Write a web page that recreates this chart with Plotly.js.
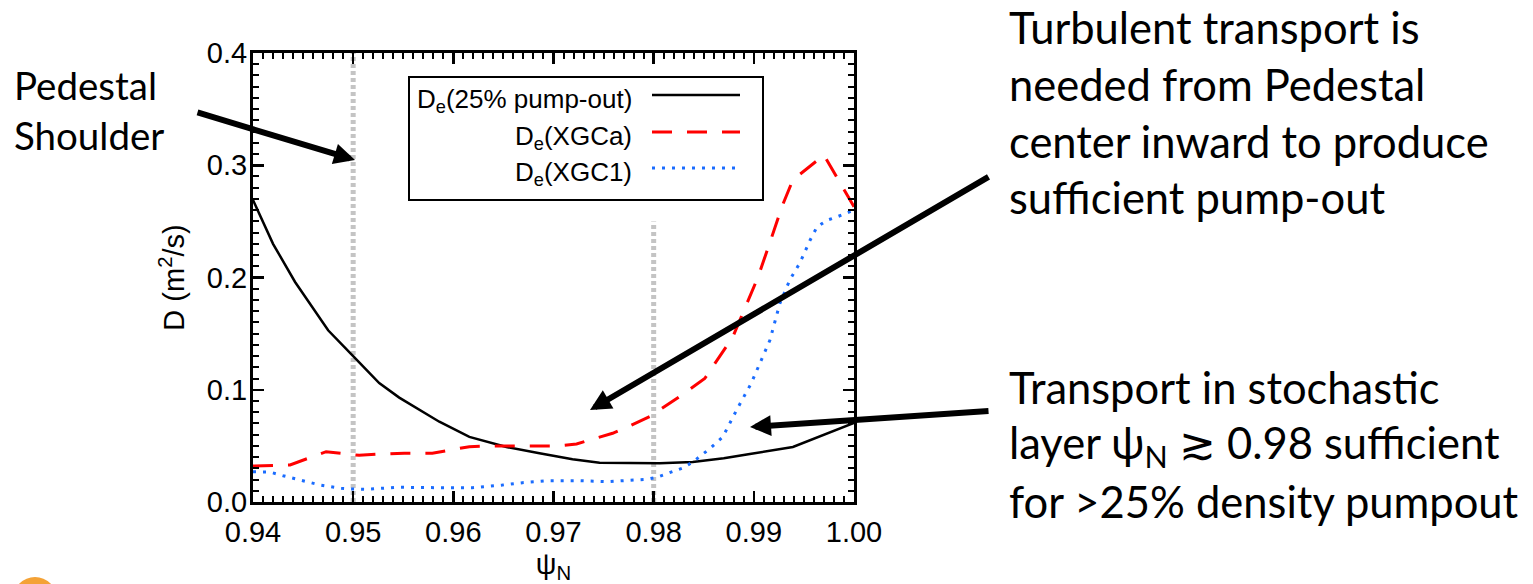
<!DOCTYPE html>
<html>
<head>
<meta charset="utf-8">
<script src="https://cdn.plot.ly/plotly-3.0.1.min.js"></script>
<style>
  html, body { margin: 0; padding: 0; background: #ffffff; }
  #chart { width: 1533px; height: 584px; }
</style>
</head>
<body>
<div id="chart"></div>
<script>
// Diffusion coefficient profiles across the pedestal (psi_N vs D_e in m^2/s)
const psiBlack = [0.9400, 0.9420, 0.9442, 0.9475, 0.9500, 0.9526, 0.9546, 0.9586, 0.9616, 0.9653,
                  0.9686, 0.9719, 0.9746, 0.9786, 0.9806, 0.9839, 0.9870, 0.9896, 0.9939, 1.0000];
const dePumpOut = [0.269, 0.230, 0.196, 0.153, 0.130, 0.106, 0.093, 0.0715, 0.058, 0.049,
                   0.0434, 0.038, 0.035, 0.0345, 0.0345, 0.0356, 0.039, 0.0428, 0.049, 0.0704];

const psiRed = [0.9400, 0.9417, 0.9437, 0.9473, 0.9497, 0.9506, 0.9523, 0.9551, 0.9579, 0.9596,
                0.9616, 0.9633, 0.9666, 0.9703, 0.9723, 0.9739, 0.9759, 0.9776, 0.9796, 0.9826,
                0.9851, 0.9879, 0.9889, 0.9904, 0.9916, 0.9928, 0.9939, 0.9970, 1.0000];
const deXGCa = [0.032, 0.0327, 0.033, 0.0448, 0.0428, 0.0416, 0.0425, 0.0434, 0.0434, 0.0463,
                0.0493, 0.0499, 0.0499, 0.0499, 0.0517, 0.0559, 0.0612, 0.0677, 0.076, 0.094,
                0.110, 0.147, 0.168, 0.200, 0.231, 0.263, 0.287, 0.309, 0.263];

const psiBlue = [0.9400, 0.9417, 0.9430, 0.9450, 0.9467, 0.9487, 0.9497, 0.9514, 0.9543, 0.9593,
                 0.9619, 0.9649, 0.9669, 0.9696, 0.9726, 0.9753, 0.9776, 0.9793, 0.9803, 0.9829,
                 0.9839, 0.9856, 0.9869, 0.9884, 0.9897, 0.9916, 0.9926, 0.9936, 0.9946, 0.9956,
                 0.9963, 0.9973, 0.9983, 1.0000];
const deXGC1 = [0.027, 0.0266, 0.0234, 0.019, 0.0151, 0.0122, 0.0116, 0.0113, 0.0131, 0.0127,
                0.0127, 0.0151, 0.0172, 0.019, 0.019, 0.0181, 0.019, 0.0202, 0.022, 0.0303,
                0.0356, 0.0475, 0.058, 0.084, 0.105, 0.144, 0.177, 0.198, 0.213, 0.233,
                0.245, 0.251, 0.254, 0.260];

// Reference positions marked by grey dotted verticals
const markerPsi = [0.95, 0.98];
const markerTop = [0.4, 0.25];

const seriesNames = ['D<sub>e</sub>(25% pump-out)', 'D<sub>e</sub>(XGCa)', 'D<sub>e</sub>(XGC1)'];
const xTickVals = [0.94, 0.95, 0.96, 0.97, 0.98, 0.99, 1.00];
const yTickVals = [0.0, 0.1, 0.2, 0.3, 0.4];

const W = 1533, H = 584;
const M = { l: 253, r: 679, t: 53, b: 82 };
const PW = W - M.l - M.r, PH = H - M.t - M.b;
const px = x => (x - M.l) / PW;
const py = y => (H - M.b - y) / PH;

const sansFamily = 'Liberation Sans, Arial, sans-serif';
const axisFont = { family: sansFamily, size: 29, color: '#000' };
const noteFont = { family: 'Lato, Open Sans, sans-serif', size: 43.5, color: '#000' };

const lineStyles = [
  { color: '#000000', width: 2.5, dash: 'solid' },
  { color: '#ff0000', width: 3, dash: '20px,15px' },
  { color: '#1a6cff', width: 3, dash: '3px,7px' }
];

const traces = [];
markerPsi.forEach((p, i) => {
  traces.push({
    x: [p, p], y: [0, markerTop[i]], mode: 'lines', hoverinfo: 'skip', showlegend: false,
    line: { color: '#c4c4c4', width: 5, dash: '4px,3px' }
  });
});
[[psiBlack, dePumpOut], [psiRed, deXGCa], [psiBlue, deXGC1]].forEach((s, i) => {
  traces.push({
    x: s[0], y: s[1], mode: 'lines', name: seriesNames[i], showlegend: false,
    line: lineStyles[i]
  });
});

// Hand-built legend: right-aligned labels with line samples after them
const legendRows = [95, 132, 168];
const shapes = [
  { type: 'rect', xref: 'paper', yref: 'paper', x0: px(409), x1: px(763), y0: py(200), y1: py(77),
    line: { color: '#000', width: 2 }, fillcolor: '#ffffff', layer: 'above' },
  // partial logo disc at the lower-left corner
  { type: 'circle', xref: 'paper', yref: 'paper', x0: px(13), x1: px(57), y0: py(621), y1: py(577),
    line: { width: 0 }, fillcolor: '#f4a236', layer: 'above' }
];
const annotations = [];
legendRows.forEach((yy, i) => {
  shapes.push({ type: 'line', xref: 'paper', yref: 'paper', x0: px(652), x1: px(740), y0: py(yy), y1: py(yy),
    line: lineStyles[i], layer: 'above' });
  annotations.push({ xref: 'paper', yref: 'paper', x: px(634), y: py(yy + 5), xanchor: 'right', yanchor: 'middle',
    text: seriesNames[i], showarrow: false, font: { family: sansFamily, size: 26, color: '#000' } });
});

function note(text, xLeft, yMid, size) {
  return { xref: 'paper', yref: 'paper', x: px(xLeft), y: py(yMid), xanchor: 'left', yanchor: 'middle',
    text: text, showarrow: false, align: 'left', font: Object.assign({}, noteFont, { size: size || noteFont.size }) };
}
function arrow(x0, y0, x1, y1) {
  return { xref: 'paper', yref: 'paper', x: px(x1), y: py(y1), axref: 'pixel', ayref: 'pixel',
    ax: x0 - x1, ay: y0 - y1, text: '', showarrow: true, arrowhead: 2, arrowsize: 0.7,
    arrowwidth: 6, arrowcolor: '#000', standoff: 0 };
}

annotations.push(
  note('Pedestal', 12, 85, 38.5),
  note('Shoulder', 12, 135, 38.5),
  note('Turbulent transport is', 1007, 27),
  note('needed from Pedestal', 1007, 84),
  note('center inward to produce', 1007, 141),
  note('sufficient pump-out', 1007, 197),
  note('Transport in stochastic', 1007, 387),
  note('layer \u03c8<sub>N</sub> \u2273 0.98 sufficient', 1007, 445),
  note('for >25% density pumpout', 1007, 501),
  arrow(196, 112, 355, 160),
  arrow(990, 176, 590, 410),
  arrow(990, 411, 750, 427)
);

const axisCommon = {
  showgrid: false, zeroline: false, showline: true, linecolor: '#000', linewidth: 3,
  mirror: 'ticks', ticks: 'inside', tickcolor: '#000', tickwidth: 2.5, ticklen: 11,
  tickfont: axisFont
};

const layout = {
  width: W, height: H, margin: M,
  paper_bgcolor: '#ffffff', plot_bgcolor: '#ffffff',
  showlegend: false,
  xaxis: Object.assign({}, axisCommon, {
    range: [0.94, 1.0], tickvals: xTickVals, ticktext: xTickVals.map(v => v.toFixed(2)),
    ticklabelstandoff: 2,
    minor: { dtick: 0.001, tick0: 0.94, ticks: 'inside', ticklen: 6, tickwidth: 2, tickcolor: '#000', showgrid: false },
    title: { text: '\u03c8<sub>N</sub>', font: { family: sansFamily, size: 29, color: '#000' }, standoff: 9 }
  }),
  yaxis: Object.assign({}, axisCommon, {
    range: [0, 0.4], tickvals: yTickVals, ticktext: yTickVals.map(v => v.toFixed(1)),
    ticklabelstandoff: -3,
    minor: { dtick: 0.01, tick0: 0, ticks: 'inside', ticklen: 6, tickwidth: 2, tickcolor: '#000', showgrid: false },
    title: { text: 'D (m<sup>2</sup>/s)', font: { family: sansFamily, size: 29, color: '#000' }, standoff: 14 }
  }),
  shapes: shapes,
  annotations: annotations
};

Plotly.newPlot('chart', traces, layout, { displayModeBar: false, staticPlot: true });
</script>
</body>
</html>
